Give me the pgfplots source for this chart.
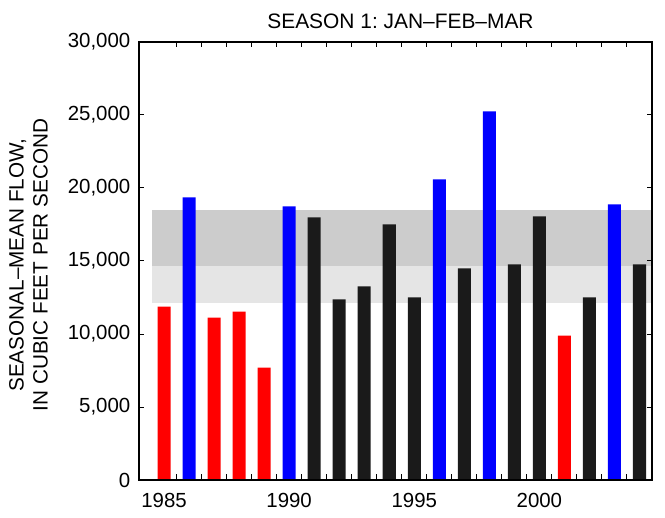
\documentclass[border=0pt]{standalone}
\usepackage{fontspec}
\setmainfont{Liberation Sans}
\usepackage{pgfplots}
\pgfplotsset{compat=1.18}
\definecolor{barred}{RGB}{255,0,0}
\definecolor{barblue}{RGB}{0,0,255}
\definecolor{barblack}{RGB}{26,26,26}
\definecolor{banddark}{RGB}{204,204,204}
\definecolor{bandlight}{RGB}{229,229,229}
\frenchspacing
\begin{document}
\begin{tikzpicture}
\begin{axis}[
  width=513bp, height=438bp, scale only axis,
  xmin=1984, xmax=2004.5, ymin=0, ymax=30000,
  scaled y ticks=false,
  axis on top,
  axis line style={line width=1.3pt},
  tick style={black, line width=1pt},
  major tick length=5.5bp, minor tick length=5.5bp,
  tick align=inside, tick pos=both,
  xtick={1985,1990,1995,2000},
  xticklabels={1985,1990,1995,2000},
  major x tick style={draw=none},
  minor xtick={1985.5,1986.5,...,2003.5},
  ytick={0,5000,10000,15000,20000,25000,30000},
  yticklabels={0,{5,000},{10,000},{15,000},{20,000},{25,000},{30,000}},
  xticklabel style={font=\fontsize{20.5}{24}\selectfont, inner sep=0pt, anchor=north, yshift=-13bp},
  yticklabel style={font=\fontsize{20.5}{24}\selectfont, inner sep=0pt, anchor=east, xshift=-8.5bp},
  title={SEASON 1: JAN–FEB–MAR},
  title style={font=\fontsize{21}{24}\selectfont, at={(axis description cs:0.5,1)}, anchor=base, yshift=8bp, xshift=5bp, inner sep=0pt},
  ylabel={SEASONAL–MEAN FLOW,\\IN CUBIC FEET PER SECOND},
  ylabel style={font=\fontsize{20.8}{24}\selectfont, align=center, inner sep=0pt, at={(axis description cs:0,0.5)}, anchor=north, yshift=130bp, xshift=-4bp},
]
\addplot[fill=bandlight, draw=none] coordinates {(1984.5,12089) (2004.5,12089) (2004.5,14625) (1984.5,14625)} -- cycle;
\addplot[fill=banddark, draw=none] coordinates {(1984.5,14625) (2004.5,14625) (2004.5,18464) (1984.5,18464)} -- cycle;
\addplot[ybar, bar width=0.52, bar shift=0pt, fill=barred, draw=none] coordinates {
(1985,11883) (1987,11129) (1988,11540) (1989,7701) (2001,9895)};
\addplot[ybar, bar width=0.52, bar shift=0pt, fill=barblue, draw=none] coordinates {
(1986,19356) (1990,18739) (1996,20590) (1998,25251) (2003,18876)};
\addplot[ybar, bar width=0.52, bar shift=0pt, fill=barblack, draw=none] coordinates {
(1991,17985) (1992,12363) (1993,13254) (1994,17505) (1995,12500) (1997,14488) (1999,14762) (2000,18053) (2002,12500) (2004,14762)};
\end{axis}
\pgfresetboundingbox
\useasboundingbox ([shift={(-139bp,-38bp)}]current axis.south west) rectangle ([shift={(13bp,42bp)}]current axis.north east);
\end{tikzpicture}
\end{document}
